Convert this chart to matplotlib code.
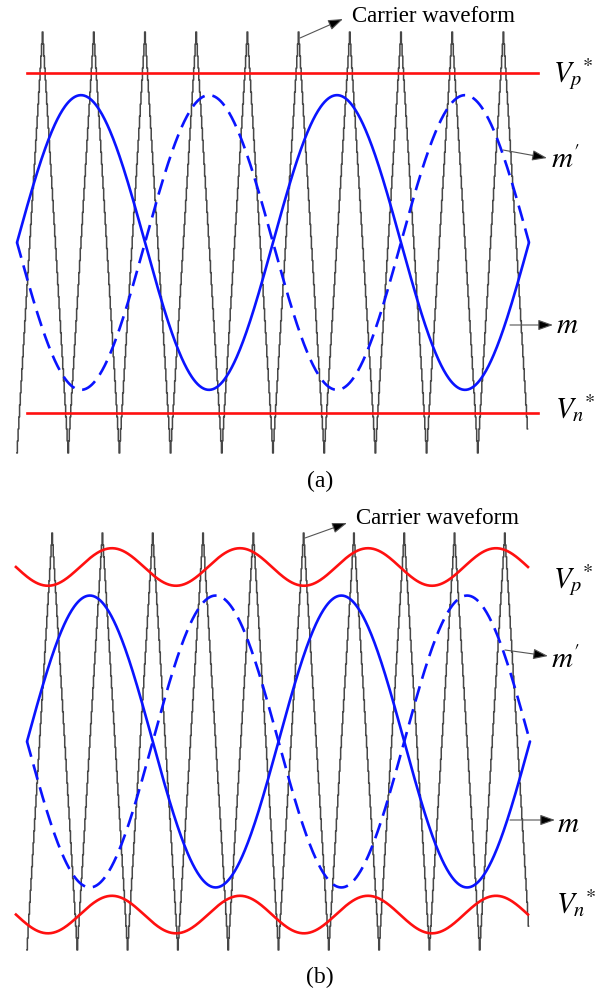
"""Carrier-based PWM sketch: fixed (a) and modulated (b) offset references."""

import matplotlib

matplotlib.use("Agg")
import matplotlib.pyplot as plt
import numpy as np

W, H = 601, 994

# waveform parameters, time unit = one carrier period
CARRIER_CYCLES = 10
CARRIER_END = 9.98
MOD_CYCLES = 2
MOD_AMP_A = 0.70
MOD_AMP_B = 0.70

# (a) constant references
VP_A = 0.805
VN_A = -0.81
RED_A_SPAN = (0.195, 10.176)

# (b) rippled references
VP_B_CENTER = 0.837
VN_B_CENTER = -0.83
V_B_RIPPLE = 0.09
RED_B_SPAN = (-0.22, 9.96)
RED_B_CYCLES = 4

CARRIER_COLOR = "#474747"
BLUE = "#0a14ff"
RED = "#ff1010"

plt.rcParams["font.family"] = ["Liberation Serif", "DejaVu Serif"]
plt.rcParams["mathtext.fontset"] = "stix"


def panel_axes(fig, top, bottom, t0_px, px_per_t, y0_px, px_per_v):
    ax = fig.add_axes([0, 1 - bottom / H, 1, (bottom - top) / H])
    ax.set_xlim((0 - t0_px) / px_per_t, (W - t0_px) / px_per_t)
    ax.set_ylim((y0_px - bottom) / px_per_v, (y0_px - top) / px_per_v)
    ax.axis("off")
    return ax


def draw_carrier(ax):
    t = np.arange(0, CARRIER_END, 1 / 70)
    tri = 1 - 4 * np.abs(t % 1 - 0.5)
    ax.plot(t, tri, drawstyle="steps-mid", color=CARRIER_COLOR, lw=1.1, zorder=1)


def draw_mod(ax, amp):
    t = np.linspace(0, CARRIER_CYCLES, 800)
    m = amp * np.sin(2 * np.pi * MOD_CYCLES * t / CARRIER_CYCLES)
    ax.plot(t, m, color=BLUE, lw=1.9, zorder=3, solid_capstyle="round")
    ax.plot(t, -m, color=BLUE, lw=1.9, zorder=3, dashes=(6, 3))


def px(x, y):
    return (x, H - y)


def arrow(fig, start, tip):
    fig.add_artist(matplotlib.patches.FancyArrowPatch(
        px(*start), px(*tip), transform=None,
        arrowstyle="-|>,head_length=0.45,head_width=0.16",
        mutation_scale=20, fc="black", ec="#555555", lw=0.8,
        shrinkA=0, shrinkB=0, zorder=5,
    ))


def label(fig, x, y, s, size=21, **kw):
    fig.text(x / W, 1 - y / H, s, fontsize=size, **kw)


fig = plt.figure(figsize=(W / 100, H / 100), dpi=100)

# ---- (a) ----
ax_a = panel_axes(fig, 0, 497, 17, 51.2, 242.5, 210.5)
draw_carrier(ax_a)
draw_mod(ax_a, MOD_AMP_A)
ax_a.plot(RED_A_SPAN, [VP_A, VP_A], color=RED, lw=1.9, zorder=2)
ax_a.plot(RED_A_SPAN, [VN_A, VN_A], color=RED, lw=1.9, zorder=2)

# ---- (b) ----
ax_b = panel_axes(fig, 497, 994, 27, 50.3, 741.5, 208.5)
draw_carrier(ax_b)
draw_mod(ax_b, MOD_AMP_B)
tr = np.linspace(RED_B_SPAN[0], RED_B_SPAN[1], 600)
ripple = V_B_RIPPLE * np.sin(2 * np.pi * RED_B_CYCLES * (tr - RED_B_SPAN[0])
                             / (RED_B_SPAN[1] - RED_B_SPAN[0]))
ax_b.plot(tr, VP_B_CENTER - ripple, color=RED, lw=1.9, zorder=2)
ax_b.plot(tr, VN_B_CENTER - ripple, color=RED, lw=1.9, zorder=2)

# labels and arrows
label(fig, 352, 17, "Carrier waveform", size=16.5, va="center")
arrow(fig, (300, 38), (343, 19))
label(fig, 553, 82, r"$V_{p}{}^{*}$", va="baseline")
label(fig, 555, 418, r"$V_{n}{}^{*}$", va="baseline")
label(fig, 551, 168, r"$m'$", va="baseline")
arrow(fig, (503, 150), (547, 158))
label(fig, 556, 333, r"$m$", va="baseline")
arrow(fig, (510, 325), (553, 325))
label(fig, 320, 481, "(a)", size=17, ha="center", va="center")

label(fig, 356, 518, "Carrier waveform", size=16.5, va="center")
arrow(fig, (305, 538), (347, 523))
label(fig, 553, 588, r"$V_{p}{}^{*}$", va="baseline")
label(fig, 556, 913, r"$V_{n}{}^{*}$", va="baseline")
label(fig, 551, 668, r"$m'$", va="baseline")
arrow(fig, (505, 650), (548, 656))
label(fig, 557, 832, r"$m$", va="baseline")
arrow(fig, (510, 820), (555, 820))
label(fig, 320, 977, "(b)", size=17, ha="center", va="center")

fig.savefig("out.png", dpi=100, facecolor="white")
plt.close(fig)
